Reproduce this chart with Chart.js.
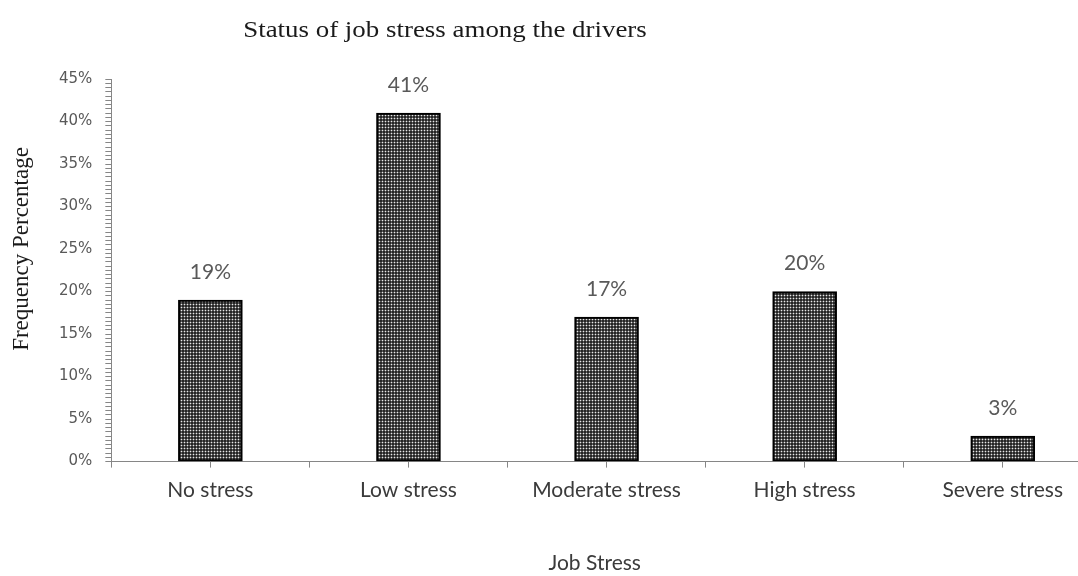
<!DOCTYPE html>
<html>
<head>
<meta charset="utf-8">
<script src="https://cdn.jsdelivr.net/npm/chart.js@4/dist/chart.umd.min.js"></script>
<style>
  html, body { margin: 0; padding: 0; background: #fff; overflow: hidden; }
  /* a bit wider than the window: the original plot runs off its right edge */
  #wrap { width: 1088px; height: 576px; position: relative; }
</style>
</head>
<body>
<div id="wrap"><canvas id="chart"></canvas></div>
<script>
// chart data
const chartTitle = "Status of job stress among the drivers";
const categories = ["No stress", "Low stress", "Moderate stress", "High stress", "Severe stress"];
const frequencyPct = [19, 41, 17, 20, 3];
const yAxisTitle = "Frequency Percentage";
const xAxisTitle = "Job Stress";

const AXIS_COLOR = "#868686";
const LABEL_COLOR = "#595959";
const TEXT_DARK = "#1a1a1a";

const canvas = document.getElementById("chart");
const mainCtx = canvas.getContext("2d");

// Excel-ish dotted grid fill for the bars
function dottedPattern(ctx) {
  const tile = document.createElement("canvas");
  tile.width = 3;
  tile.height = 3;
  const t = tile.getContext("2d");
  t.fillStyle = "#262626";
  t.fillRect(0, 0, 3, 3);
  t.fillStyle = "#5c5c5c";
  t.fillRect(1, 0, 1, 1);
  t.fillRect(0, 1, 1, 1);
  t.fillRect(2, 1, 1, 1);
  t.fillRect(1, 2, 1, 1);
  t.fillStyle = "#e8e8e8";
  t.fillRect(1, 1, 1, 1);
  return ctx.createPattern(tile, "repeat");
}

const titleAndValuesPlugin = {
  id: "titleAndValues",
  afterDatasetsDraw(chart) {
    const ctx = chart.ctx;
    const meta = chart.getDatasetMeta(0);

    ctx.save();
    ctx.fillStyle = LABEL_COLOR;
    ctx.font = "21px Lato, sans-serif";
    ctx.textAlign = "center";
    ctx.textBaseline = "middle";
    meta.data.forEach((bar, i) => {
      ctx.fillText(`${frequencyPct[i]}%`, bar.x, bar.y - 28);
    });
    ctx.restore();

    // title sits left of centre in the original, slightly wide serif
    ctx.save();
    ctx.fillStyle = TEXT_DARK;
    ctx.font = '23px "Liberation Serif", "Times New Roman", serif';
    ctx.textAlign = "center";
    ctx.textBaseline = "middle";
    ctx.translate(445, 31);
    ctx.scale(1.17, 1);
    ctx.fillText(chartTitle, 0, 0);
    ctx.restore();

    // y title is not centred on the plot in the original, so draw it here
    ctx.save();
    ctx.fillStyle = TEXT_DARK;
    ctx.font = '23px "Liberation Serif", "Times New Roman", serif';
    ctx.textAlign = "center";
    ctx.textBaseline = "middle";
    ctx.translate(22, 249);
    ctx.rotate(-Math.PI / 2);
    ctx.fillText(yAxisTitle, 0, 0);
    ctx.restore();
  },
};

new Chart(canvas, {
  type: "bar",
  data: {
    datasets: [
      {
        label: yAxisTitle,
        data: frequencyPct.map((v, i) => ({ x: i, y: v })),
        backgroundColor: dottedPattern(mainCtx),
        borderColor: "#000000",
        borderWidth: 2,
        borderSkipped: false,
        barThickness: 64,
      },
    ],
  },
  plugins: [titleAndValuesPlugin],
  options: {
    responsive: true,
    maintainAspectRatio: false,
    animation: false,
    layout: { padding: { left: 46, top: 79, right: 0, bottom: 0 } },
    plugins: {
      legend: { display: false },
      tooltip: { enabled: false },
    },
    scales: {
      x: {
        type: "linear",
        min: -0.5,
        max: 4.38,
        offset: false,
        grid: { offset: false, drawOnChartArea: false, tickLength: 6, color: AXIS_COLOR },
        border: { color: AXIS_COLOR, width: 1 },
        ticks: {
          stepSize: 0.5,
          autoSkip: false,
          maxRotation: 0,
          padding: 10,
          color: "#3b3b3b",
          font: { family: "Lato", size: 21 },
          callback: (v) => (Number.isInteger(v) && categories[v] ? categories[v] : ""),
        },
        title: {
          display: true,
          text: xAxisTitle,
          color: "#3b3b3b",
          font: { family: "Lato", size: 21 },
          padding: { top: 38, bottom: 0 },
        },
      },
      y: {
        min: 0,
        max: 45,
        grid: { drawOnChartArea: false, tickLength: 6, color: AXIS_COLOR },
        border: { color: AXIS_COLOR, width: 1 },
        ticks: {
          stepSize: 0.5,
          autoSkip: false,
          padding: 13,
          color: LABEL_COLOR,
          font: { family: "DejaVu Sans", size: 15 },
          callback: (v) => (v % 5 === 0 ? `${v}%` : ""),
        },
      },
    },
  },
});
</script>
</body>
</html>
